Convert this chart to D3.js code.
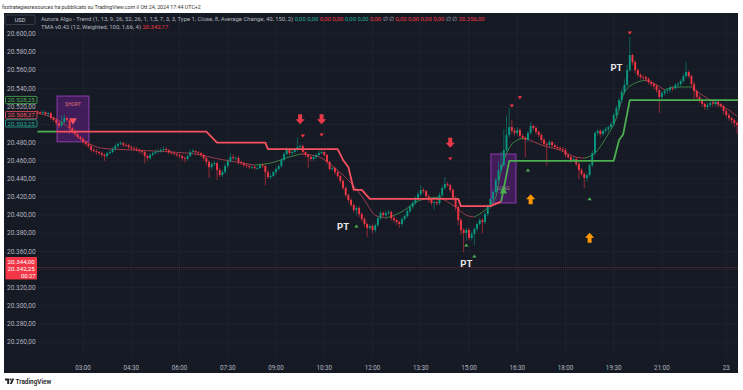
<!DOCTYPE html>
<html>
<head>
<meta charset="utf-8">
<script src="https://cdn.jsdelivr.net/npm/d3@7"></script>
<style>
  body { margin: 0; background: #fff; }
  svg { display: block; font-family: Roboto, "Noto Sans", sans-serif; }
</style>
</head>
<body>
<script>
// 5 minute bars, 01:35 -> 23:20
const opens = [
  20514.5, 20513.75, 20512.75, 20513.75, 20511.5, 20512.75, 20507.25, 20505, 20501.75, 20498.5,
  20502.75, 20507.25, 20505, 20496.25, 20493, 20489.5, 20486.25, 20484, 20480.75, 20478.5,
  20476.25, 20472, 20470.75, 20469.75, 20468.5, 20466.5, 20465.25, 20468.5, 20469.75, 20473,
  20476.25, 20478.5, 20479.5, 20477.5, 20477.25, 20475.25, 20474, 20473, 20472, 20470.75,
  20469.75, 20465.25, 20463, 20466.5, 20468.5, 20469.75, 20470.75, 20472, 20473, 20471.75,
  20469.5, 20468.5, 20467.5, 20466.5, 20465.25, 20463, 20462, 20465.25, 20469.75, 20470.75,
  20469.5, 20468.5, 20466.5, 20463, 20458.75, 20453, 20456.5, 20457.5, 20449.75, 20444.25,
  20447.5, 20454.25, 20459.75, 20464.25, 20463, 20463.25, 20458.75, 20457.5, 20455.25, 20454.25,
  20453, 20453.25, 20452, 20452, 20455.25, 20454.25, 20447.5, 20442, 20443.25, 20447.5,
  20451, 20454.25, 20461, 20467.5, 20472, 20468.5, 20469.75, 20472, 20475.25, 20476.25,
  20469.75, 20466.5, 20464.25, 20462, 20464.25, 20466.5, 20468.5, 20469.75, 20466.5, 20458.75,
  20451, 20452, 20447.5, 20443.25, 20437.75, 20430, 20422.25, 20416.75, 20411.25, 20405.75,
  20408, 20401.25, 20395.75, 20390.25, 20385.75, 20388, 20383.5, 20389, 20396.75, 20402.5,
  20400, 20402.25, 20403.5, 20396.75, 20394.5, 20392.5, 20390.25, 20395.75, 20399, 20404.5,
  20409, 20413.5, 20419, 20423.25, 20427.75, 20426.5, 20421, 20416.75, 20413.5, 20414.5,
  20413.25, 20422.25, 20430, 20434.5, 20433.25, 20427.75, 20419, 20409, 20394.5, 20383.5,
  20380.25, 20383.75, 20374.75, 20379.25, 20384.75, 20390.25, 20394.5, 20392.5, 20401.25, 20409,
  20417.75, 20425.5, 20438.75, 20449.75, 20455.25, 20472, 20488.5, 20497.25, 20493, 20490.75,
  20494, 20487.5, 20485.25, 20483, 20490.75, 20498.5, 20496.25, 20491.75, 20488.5, 20483,
  20478.5, 20477.5, 20480.75, 20477.25, 20475.25, 20474, 20473, 20472, 20466.5, 20464.25,
  20461, 20462, 20456.5, 20449.75, 20445.5, 20441, 20444.25, 20455.25, 20468.5, 20490.75,
  20493, 20489.5, 20493, 20495, 20497.25, 20500.5, 20510.5, 20518.25, 20527, 20536,
  20543.75, 20560.25, 20576.75, 20569, 20560.25, 20554.75, 20552.5, 20552.25, 20550.25, 20547,
  20544.75, 20542.5, 20538.25, 20530.5, 20534.75, 20537, 20538, 20540.5, 20540.25, 20543.75,
  20544.75, 20548, 20553.5, 20558, 20553.5, 20544.75, 20537, 20530.5, 20527, 20522.75,
  20519.5, 20521.5, 20523.75, 20522.75, 20525, 20522.5, 20520.5, 20515, 20510.5, 20507.25,
  20505, 20501.75
];
const highs = [
  20516, 20515, 20516, 20515, 20514, 20514, 20509, 20507, 20504, 20510.5,
  20511, 20509, 20506, 20498, 20495, 20492, 20488, 20486, 20483, 20480,
  20478, 20474, 20473, 20471, 20470, 20468, 20470, 20472, 20475, 20479,
  20481, 20482, 20481, 20479, 20479, 20477, 20476, 20475, 20474, 20472,
  20471, 20467, 20468, 20470, 20472, 20473, 20474, 20476, 20475, 20473,
  20471, 20470, 20469, 20468, 20467, 20465, 20467, 20472, 20473, 20472,
  20471, 20470, 20468, 20465, 20461, 20459, 20460, 20459, 20452, 20450,
  20457, 20462, 20468.5, 20467, 20465, 20465, 20460, 20459, 20457, 20456,
  20455, 20455, 20454, 20457, 20457, 20456, 20450, 20446, 20449, 20453,
  20456, 20463, 20470, 20475, 20474, 20472, 20474, 20486, 20478, 20478,
  20471, 20468, 20466, 20466, 20468, 20471, 20472, 20471, 20468, 20460,
  20454, 20454, 20449, 20445, 20440, 20432, 20424, 20419, 20413, 20410,
  20410, 20403, 20398, 20392, 20390, 20390, 20391, 20399, 20405, 20404,
  20405, 20406, 20405, 20399, 20396, 20394, 20398, 20401, 20407, 20412,
  20416, 20421, 20426, 20433, 20430, 20428, 20423, 20419, 20416, 20416,
  20425, 20433, 20442, 20437, 20435, 20430, 20421, 20411, 20397, 20386,
  20386, 20386, 20382, 20387, 20392, 20397, 20397, 20404, 20412, 20420,
  20428, 20442, 20460, 20470, 20495, 20510, 20519, 20505, 20496, 20497,
  20496, 20490, 20487, 20493, 20503, 20500, 20498, 20494, 20491, 20485,
  20481, 20483, 20482, 20479, 20477, 20476, 20475, 20474, 20468, 20466,
  20464, 20464, 20459, 20452, 20447, 20446, 20457, 20472, 20493, 20495,
  20495, 20495, 20497, 20499, 20503, 20513, 20521, 20530, 20539, 20550,
  20566, 20597, 20578, 20571, 20562, 20557, 20555, 20554, 20552, 20549,
  20547, 20545, 20540, 20537, 20539, 20540, 20543, 20542, 20546, 20547,
  20550, 20556, 20569, 20560, 20555, 20547, 20539, 20533, 20529, 20525,
  20524, 20527, 20526, 20528, 20527, 20524, 20522, 20517, 20513, 20509,
  20507, 20504
];
const lows = [
  20512, 20511, 20511, 20510, 20509, 20505, 20503, 20499, 20496, 20497,
  20501, 20503, 20490, 20490, 20487, 20484, 20482, 20478, 20476, 20474,
  20470, 20469, 20467, 20466, 20464, 20460, 20463, 20467, 20468, 20471,
  20474, 20477, 20475, 20475, 20473, 20472, 20471, 20470, 20468, 20467,
  20457, 20460, 20461, 20465, 20467, 20468, 20469, 20470, 20470, 20467,
  20467, 20466, 20464, 20463, 20460, 20458, 20460, 20464, 20468, 20467,
  20466, 20464, 20460, 20455, 20441, 20450, 20454, 20439, 20442, 20442,
  20446, 20452, 20458, 20461, 20461, 20456, 20455, 20453, 20452, 20451,
  20451, 20450, 20450, 20451, 20452, 20433, 20440, 20440, 20442, 20445,
  20449, 20452, 20459, 20465, 20466, 20466, 20468, 20470, 20473, 20467,
  20464, 20452, 20460, 20460, 20462, 20465, 20467, 20464, 20456, 20449,
  20449, 20445, 20441, 20435, 20428, 20420, 20414, 20409, 20403, 20400,
  20398, 20393, 20387, 20376, 20383, 20380, 20381, 20387, 20394, 20398,
  20398, 20400, 20394, 20392, 20389, 20386, 20388, 20393, 20397, 20402,
  20407, 20411, 20417, 20421, 20424, 20419, 20414, 20411, 20406, 20411,
  20411, 20420, 20428, 20431, 20425, 20416, 20405, 20389, 20378, 20359,
  20372, 20372, 20372, 20367, 20382, 20388, 20380, 20390, 20399, 20407,
  20415, 20423, 20436, 20447, 20453, 20469, 20486, 20490, 20488, 20488,
  20485, 20483, 20464, 20481, 20489, 20494, 20489, 20486, 20480, 20476,
  20455, 20475, 20475, 20473, 20472, 20471, 20470, 20464, 20462, 20458,
  20459, 20454, 20440, 20443, 20430, 20437, 20442, 20453, 20466, 20488,
  20486, 20487, 20490, 20492, 20495, 20498, 20508, 20516, 20524, 20533,
  20541, 20558, 20566, 20557, 20552, 20550, 20549, 20547, 20544, 20542,
  20539, 20535, 20513, 20528, 20532, 20534, 20535, 20537, 20538, 20541,
  20542, 20546, 20551, 20551, 20542, 20528, 20528, 20524, 20520, 20516,
  20516, 20519, 20520, 20520, 20519, 20518, 20511, 20508, 20504, 20501,
  20497, 20490
];
const closes = [
  20513.75, 20512.75, 20513.75, 20511.5, 20512.75, 20507.25, 20505, 20501.75, 20498.5, 20502.75,
  20507.25, 20505, 20496.25, 20493, 20489.5, 20486.25, 20484, 20480.75, 20478.5, 20476.25,
  20472, 20470.75, 20469.75, 20468.5, 20466.5, 20465.25, 20468.5, 20469.75, 20473, 20476.25,
  20478.5, 20479.5, 20477.5, 20477.25, 20475.25, 20474, 20473, 20472, 20470.75, 20469.75,
  20465.25, 20463, 20466.5, 20468.5, 20469.75, 20470.75, 20472, 20473, 20471.75, 20469.5,
  20468.5, 20467.5, 20466.5, 20465.25, 20463, 20462, 20465.25, 20469.75, 20470.75, 20469.5,
  20468.5, 20466.5, 20463, 20458.75, 20453, 20456.5, 20457.5, 20449.75, 20444.25, 20447.5,
  20454.25, 20459.75, 20464.25, 20463, 20463.25, 20458.75, 20457.5, 20455.25, 20454.25, 20453,
  20453.25, 20452, 20452, 20455.25, 20454.25, 20447.5, 20442, 20443.25, 20447.5, 20451,
  20454.25, 20461, 20467.5, 20472, 20468.5, 20469.75, 20472, 20475.25, 20476.25, 20469.75,
  20466.5, 20464.25, 20462, 20464.25, 20466.5, 20468.5, 20469.75, 20466.5, 20458.75, 20451,
  20452, 20447.5, 20443.25, 20437.75, 20430, 20422.25, 20416.75, 20411.25, 20405.75, 20408,
  20401.25, 20395.75, 20390.25, 20385.75, 20388, 20383.5, 20389, 20396.75, 20402.5, 20400,
  20402.25, 20403.5, 20396.75, 20394.5, 20392.5, 20390.25, 20395.75, 20399, 20404.5, 20409,
  20413.5, 20419, 20423.25, 20427.75, 20426.5, 20421, 20416.75, 20413.5, 20414.5, 20413.25,
  20422.25, 20430, 20434.5, 20433.25, 20427.75, 20419, 20409, 20394.5, 20383.5, 20380.25,
  20383.75, 20374.75, 20379.25, 20384.75, 20390.25, 20394.5, 20392.5, 20401.25, 20409, 20417.75,
  20425.5, 20438.75, 20449.75, 20455.25, 20472, 20488.5, 20497.25, 20493, 20490.75, 20494,
  20487.5, 20485.25, 20483, 20490.75, 20498.5, 20496.25, 20491.75, 20488.5, 20483, 20478.5,
  20477.5, 20480.75, 20477.25, 20475.25, 20474, 20473, 20472, 20466.5, 20464.25, 20461,
  20462, 20456.5, 20449.75, 20445.5, 20441, 20444.25, 20455.25, 20468.5, 20490.75, 20493,
  20489.5, 20493, 20495, 20497.25, 20500.5, 20510.5, 20518.25, 20527, 20536, 20543.75,
  20560.25, 20576.75, 20569, 20560.25, 20554.75, 20552.5, 20552.25, 20550.25, 20547, 20544.75,
  20542.5, 20538.25, 20530.5, 20534.75, 20537, 20538, 20540.5, 20540.25, 20543.75, 20544.75,
  20548, 20553.5, 20558, 20553.5, 20544.75, 20537, 20530.5, 20527, 20522.75, 20519.5,
  20521.5, 20523.75, 20522.75, 20525, 20522.5, 20520.5, 20515, 20510.5, 20507.25, 20505,
  20501.75, 20499.5
];

// Aurora trend stop (bar index, price)
const trendGreenStartBars = [0, 7];
const trendGreenStartVals = [20492.25, 20492.25];
const trendRedBars = [7, 63, 67, 85, 86, 112, 114, 116, 118, 121, 124, 157, 158, 169, 173];
const trendRedVals = [20492.25, 20492.25, 20480, 20480, 20473, 20473, 20461, 20453, 20428, 20428, 20418, 20418, 20410, 20410, 20415];
const trendGreenBars = [173, 176, 215, 217, 218.5, 221, 261.5];
const trendGreenVals = [20415, 20460, 20460, 20483, 20489, 20527, 20527];

// TMA centre line
const tmaBars = [0, 9, 16, 24, 35, 50, 61, 66, 72, 81, 87, 94, 98, 102, 106, 111, 117, 122, 126, 130,
  135, 143, 150, 156, 160, 163, 167, 171, 173, 176, 179, 182, 188, 195, 201, 204, 208, 212, 216, 219,
  223, 227, 231, 234, 238, 244, 247, 253, 258, 261];
const tmaVals = [20512.75, 20502.75, 20485, 20474, 20472, 20469.75, 20466.5, 20463, 20459.75, 20455.25,
  20457.5, 20464.25, 20467.5, 20466.5, 20463, 20452, 20435.5, 20416.75, 20400, 20396.75,
  20402.25, 20416.75, 20420, 20409, 20400, 20398, 20405.75, 20420, 20449.75, 20474,
  20482.75, 20485.25, 20477.5, 20471.75, 20464, 20463, 20468.5, 20485, 20507.25, 20535.75,
  20545.75, 20549, 20543.75, 20538.25, 20541.5, 20541.5, 20534.75, 20523.75, 20516, 20509];

// signals
const bigDownBars = [98, 106, 154];
const bigDownVals = [20506, 20506, 20480];
const bigUpBars = [184, 206];
const bigUpVals = [20417.5, 20375];
const smallDownBars = [99, 106, 154, 177, 180, 221];
const smallDownVals = [20487.5, 20488.5, 20462, 20520.5, 20529.5, 20601];
const smallUpBars = [119, 160, 163, 183, 206];
const smallUpVals = [20388, 20367, 20355, 20450, 20418];
const ptBars = [114, 160, 216];
const ptVals = [20387, 20347, 20563.5];
const shortBox = { bars: [7.3, 19.2], vals: [20531.5, 20481] };
const longBox = { bars: [169.2, 178.5], vals: [20467.5, 20413.5] };

// axes
const priceTicks = [20260, 20280, 20300, 20320, 20340, 20360, 20380, 20400, 20420, 20440,
  20460, 20480, 20500, 20520, 20540, 20560, 20580, 20600];
const timeTickBars = [17, 35, 53, 71, 89, 107, 125, 143, 161, 179, 197, 215, 233, 257];
const timeTickLabels = ["03:00", "04:30", "06:00", "07:30", "09:00", "10:30", "12:00", "13:30",
  "15:00", "16:30", "18:00", "19:30", "21:00", "23"];
const lastPrice = 20342.25;

const W = 743, H = 390;
const bg = "#161a25", up = "#089981", down = "#f23645", axisText = "#b2b5be", grid = "#20242f";
const it = d3.formatLocale({ decimal: ",", thousands: ".", grouping: [3], currency: ["", ""] });
const fmt = it.format(",.2f");

const x = d3.scaleLinear().domain([0, 261]).range([37.5, 737]);
const y = d3.scaleLinear().domain([20260, 20600]).range([342, 34]);

const svg = d3.select("body").append("svg").attr("width", W).attr("height", H);
svg.append("rect").attr("width", W).attr("height", H).attr("fill", "#fff");
svg.append("rect").attr("x", 4).attr("y", 13).attr("width", 734).attr("height", 360).attr("fill", bg);

svg.append("text").attr("x", 2).attr("y", 8.5).attr("font-size", 5.3).attr("fill", "#333")
  .text("fxstrategiesresources ha pubblicato su TradingView.com il Ott 24, 2024 17:44 UTC+2");

// grid
svg.append("g").selectAll("line").data(priceTicks).enter().append("line")
  .attr("x1", 37).attr("x2", 738).attr("y1", d => y(d)).attr("y2", d => y(d))
  .attr("stroke", grid).attr("stroke-width", 0.8);
svg.append("g").selectAll("line").data(timeTickBars).enter().append("line")
  .attr("x1", d => x(d)).attr("x2", d => x(d)).attr("y1", 13).attr("y2", 357)
  .attr("stroke", grid).attr("stroke-width", 0.8);

// time axis
svg.append("g").selectAll("text").data(timeTickBars).enter().append("text")
  .attr("x", d => x(d)).attr("y", 369.5).attr("text-anchor", "middle")
  .attr("font-size", 6.3).attr("fill", axisText).text((d, i) => timeTickLabels[i]);

// price axis
svg.append("g").selectAll("text").data(priceTicks).enter().append("text")
  .attr("x", 7).attr("y", d => y(d) + 2.2).attr("font-size", 6.5).attr("fill", axisText)
  .text(d => fmt(d));

const plot = svg.append("g");
svg.append("clipPath").attr("id", "pc").append("rect").attr("x", 36).attr("y", 13).attr("width", 702).attr("height", 344);
plot.attr("clip-path", "url(#pc)");

// last price line
plot.append("line").attr("x1", 37).attr("x2", 738).attr("y1", y(lastPrice)).attr("y2", y(lastPrice))
  .attr("stroke", down).attr("stroke-opacity", 0.55).attr("stroke-width", 0.8).attr("stroke-dasharray", "1,1");

// signal boxes
function box(b) {
  plot.append("rect").attr("x", x(b.bars[0])).attr("y", y(b.vals[0]))
    .attr("width", x(b.bars[1]) - x(b.bars[0])).attr("height", y(b.vals[1]) - y(b.vals[0]))
    .attr("fill", "#7b1fa2").attr("fill-opacity", 0.42).attr("stroke", "#8e3bb0").attr("stroke-width", 1);
}
box(shortBox);
box(longBox);

// TMA line, coloured by slope
const tmaPts = tmaBars.map((b, k) => [x(b), y(tmaVals[k])]);
const runs = [];
let cur = [tmaPts[0]], dir = null;
for (let k = 1; k < tmaPts.length; k++) {
  const d = tmaVals[k] >= tmaVals[k - 1] ? "up" : "down";
  if (dir === null || d === dir) cur.push(tmaPts[k]);
  else { runs.push({ dir, pts: cur }); cur = [tmaPts[k - 1], tmaPts[k]]; }
  dir = d;
}
runs.push({ dir, pts: cur });
const tmaLine = d3.line().curve(d3.curveMonotoneX);
plot.append("g").selectAll("path").data(runs).enter().append("path")
  .attr("d", r => tmaLine(r.pts)).attr("fill", "none")
  .attr("stroke", r => r.dir === "up" ? "#3e8e46" : "#a9404d").attr("stroke-width", 0.9);

// candles
const idx = d3.range(closes.length);
const cg = plot.append("g");
cg.selectAll("line").data(idx).enter().append("line")
  .attr("x1", i => x(i)).attr("x2", i => x(i))
  .attr("y1", i => y(highs[i])).attr("y2", i => y(lows[i]))
  .attr("stroke", i => closes[i] >= opens[i] ? up : down).attr("stroke-opacity", 0.7).attr("stroke-width", 0.8);
cg.selectAll("rect").data(idx).enter().append("rect")
  .attr("x", i => x(i) - 0.95).attr("width", 1.9)
  .attr("y", i => y(Math.max(opens[i], closes[i])))
  .attr("height", i => Math.max(0.8, Math.abs(y(opens[i]) - y(closes[i]))))
  .attr("fill", i => closes[i] >= opens[i] ? up : down);

// trend stop line
const tl = d3.line();
function trend(bars, vals, col) {
  plot.append("path").attr("d", tl(bars.map((b, k) => [x(b), y(vals[k])])))
    .attr("fill", "none").attr("stroke", col).attr("stroke-width", 1.8).attr("stroke-linejoin", "round");
}
trend(trendGreenStartBars, trendGreenStartVals, "#4caf50");
trend(trendRedBars, trendRedVals, "#f7525f");
trend(trendGreenBars, trendGreenVals, "#4caf50");

// box labels
const sx = (x(shortBox.bars[0]) + x(shortBox.bars[1])) / 2;
plot.append("text").attr("x", sx).attr("y", y(shortBox.vals[0]) + 9.5).attr("text-anchor", "middle")
  .attr("font-size", 5).attr("fill", "#e0707c").text("SHORT");
plot.append("path").attr("d", `M${sx - 3.8},${y(20507)} h7.6 l-3.8,6.5 z`).attr("fill", "#f7525f");
const lx = (x(longBox.bars[0]) + x(longBox.bars[1])) / 2;
plot.append("text").attr("x", lx).attr("y", y(longBox.vals[1]) - 13).attr("text-anchor", "middle")
  .attr("font-size", 5).attr("fill", "#8a9180").text("LONG");
plot.append("path").attr("d", `M${lx - 3.5},${y(20424)} h7 l-3.5,-8 z`).attr("fill", "#4caf50");

// arrows, markers, PT
const ag = plot.append("g");
bigDownBars.forEach((b, k) => {
  const cx = x(b), cy = y(bigDownVals[k]);
  ag.append("path").attr("d", `M${cx - 2},${cy - 5} h4 v5 h2.6 l-4.6,5 l-4.6,-5 h2.6 z`).attr("fill", "#e8394a");
});
bigUpBars.forEach((b, k) => {
  const cx = x(b), cy = y(bigUpVals[k]);
  ag.append("path").attr("d", `M${cx - 2},${cy + 5} h4 v-5 h2.6 l-4.6,-5 l-4.6,5 h2.6 z`).attr("fill", "#ff9800");
});
smallDownBars.forEach((b, k) => {
  const cx = x(b), cy = y(smallDownVals[k]);
  ag.append("path").attr("d", `M${cx - 2.2},${cy - 1.5} h4.4 l-2.2,3 z`).attr("fill", "#f23645");
});
smallUpBars.forEach((b, k) => {
  const cx = x(b), cy = y(smallUpVals[k]);
  ag.append("path").attr("d", `M${cx - 2.2},${cy + 1.5} h4.4 l-2.2,-3 z`).attr("fill", "#4caf50");
});
ptBars.forEach((b, k) => {
  ag.append("text").attr("x", x(b)).attr("y", y(ptVals[k]) + 3.5).attr("text-anchor", "middle")
    .attr("font-size", 9.5).attr("font-weight", 700).attr("fill", "#e8e8ec").text("PT");
});

// legend
const lg = svg.append("g");
lg.append("rect").attr("x", 5).attr("y", 15).attr("width", 30).attr("height", 9.5).attr("rx", 1.5)
  .attr("fill", bg).attr("stroke", "#434651").attr("stroke-width", 0.8);
lg.append("text").attr("x", 20).attr("y", 21.8).attr("text-anchor", "middle").attr("font-size", 5.6)
  .attr("fill", "#d1d4dc").text("USD");
const l1 = lg.append("text").attr("x", 41).attr("y", 21).attr("font-size", 5.9).attr("fill", "#b2b5be");
l1.append("tspan").text("Aurora Algo - Trend (1, 13, 9, 26, 52, 26, 1, 1,5, 7, 3, 3, Type 1, Close, 8, Average Change, 40, 150, 2) ");
const legendVals = ["0,00", "0,00", "0,00", "0,00", "0,00", "0,00", "0,00", "\u2205", "\u2205", "0,00", "0,00", "0,00", "0,00", "\u2205", "\u2205", "20.356,00"];
const legendCols = ["#22ab94", "#22ab94", "#f23645", "#f23645", "#22ab94", "#22ab94", "#f23645", "#b2b5be", "#b2b5be", "#f23645", "#f23645", "#f23645", "#f23645", "#b2b5be", "#b2b5be", "#f23645"];
legendVals.forEach((v, k) => l1.append("tspan").attr("fill", legendCols[k]).text(" " + v));
const l2 = lg.append("text").attr("x", 41).attr("y", 28.8).attr("font-size", 5.9).attr("fill", "#b2b5be");
l2.append("tspan").text("TMA v0.42 (12, Weighted, 100, 1,66, 4) ");
l2.append("tspan").attr("fill", "#f23645").text(" 20.342,17");

// price scale labels
const pl = svg.append("g");
function tag(val, yc, col) {
  pl.append("rect").attr("x", 5.5).attr("y", yc - 3.6).attr("width", 31.5).attr("height", 7.2).attr("rx", 1)
    .attr("fill", bg).attr("stroke", col).attr("stroke-width", 0.8);
  pl.append("text").attr("x", 21.2).attr("y", yc + 2.1).attr("text-anchor", "middle").attr("font-size", 6.2)
    .attr("fill", col).text(fmt(val));
}
tag(20528.25, 100, "#4caf50");
tag(20508.37, 115.2, "#f7525f");
tag(20503.25, 123.4, "#22ab94");
pl.append("rect").attr("x", 5.5).attr("y", 257).attr("width", 31.5).attr("height", 22.5).attr("rx", 1).attr("fill", down);
pl.append("text").attr("x", 21.2).attr("y", 263.5).attr("text-anchor", "middle").attr("font-size", 6.2).attr("fill", "#fff").text(fmt(20344));
pl.append("text").attr("x", 21.2).attr("y", 271.3).attr("text-anchor", "middle").attr("font-size", 6.2).attr("fill", "#fff").text(fmt(lastPrice));
pl.append("text").attr("x", 35.5).attr("y", 278).attr("text-anchor", "end").attr("font-size", 5.8).attr("fill", "#fff").text("00:27");

// footer
const ft = svg.append("g").attr("fill", "#222");
ft.append("path").attr("d", "M5,378.5 h4.2 v5.5 h-2 v-3.6 h-2.2 z");
ft.append("circle").attr("cx", 10.6).attr("cy", 379.6).attr("r", 1);
ft.append("path").attr("d", "M12.3,378.5 h1.9 l-2.4,5.5 h-1.9 z");
ft.append("text").attr("x", 15.5).attr("y", 383.5).attr("font-size", 6.4).attr("font-weight", 600).text("TradingView");
</script>
</body>
</html>
